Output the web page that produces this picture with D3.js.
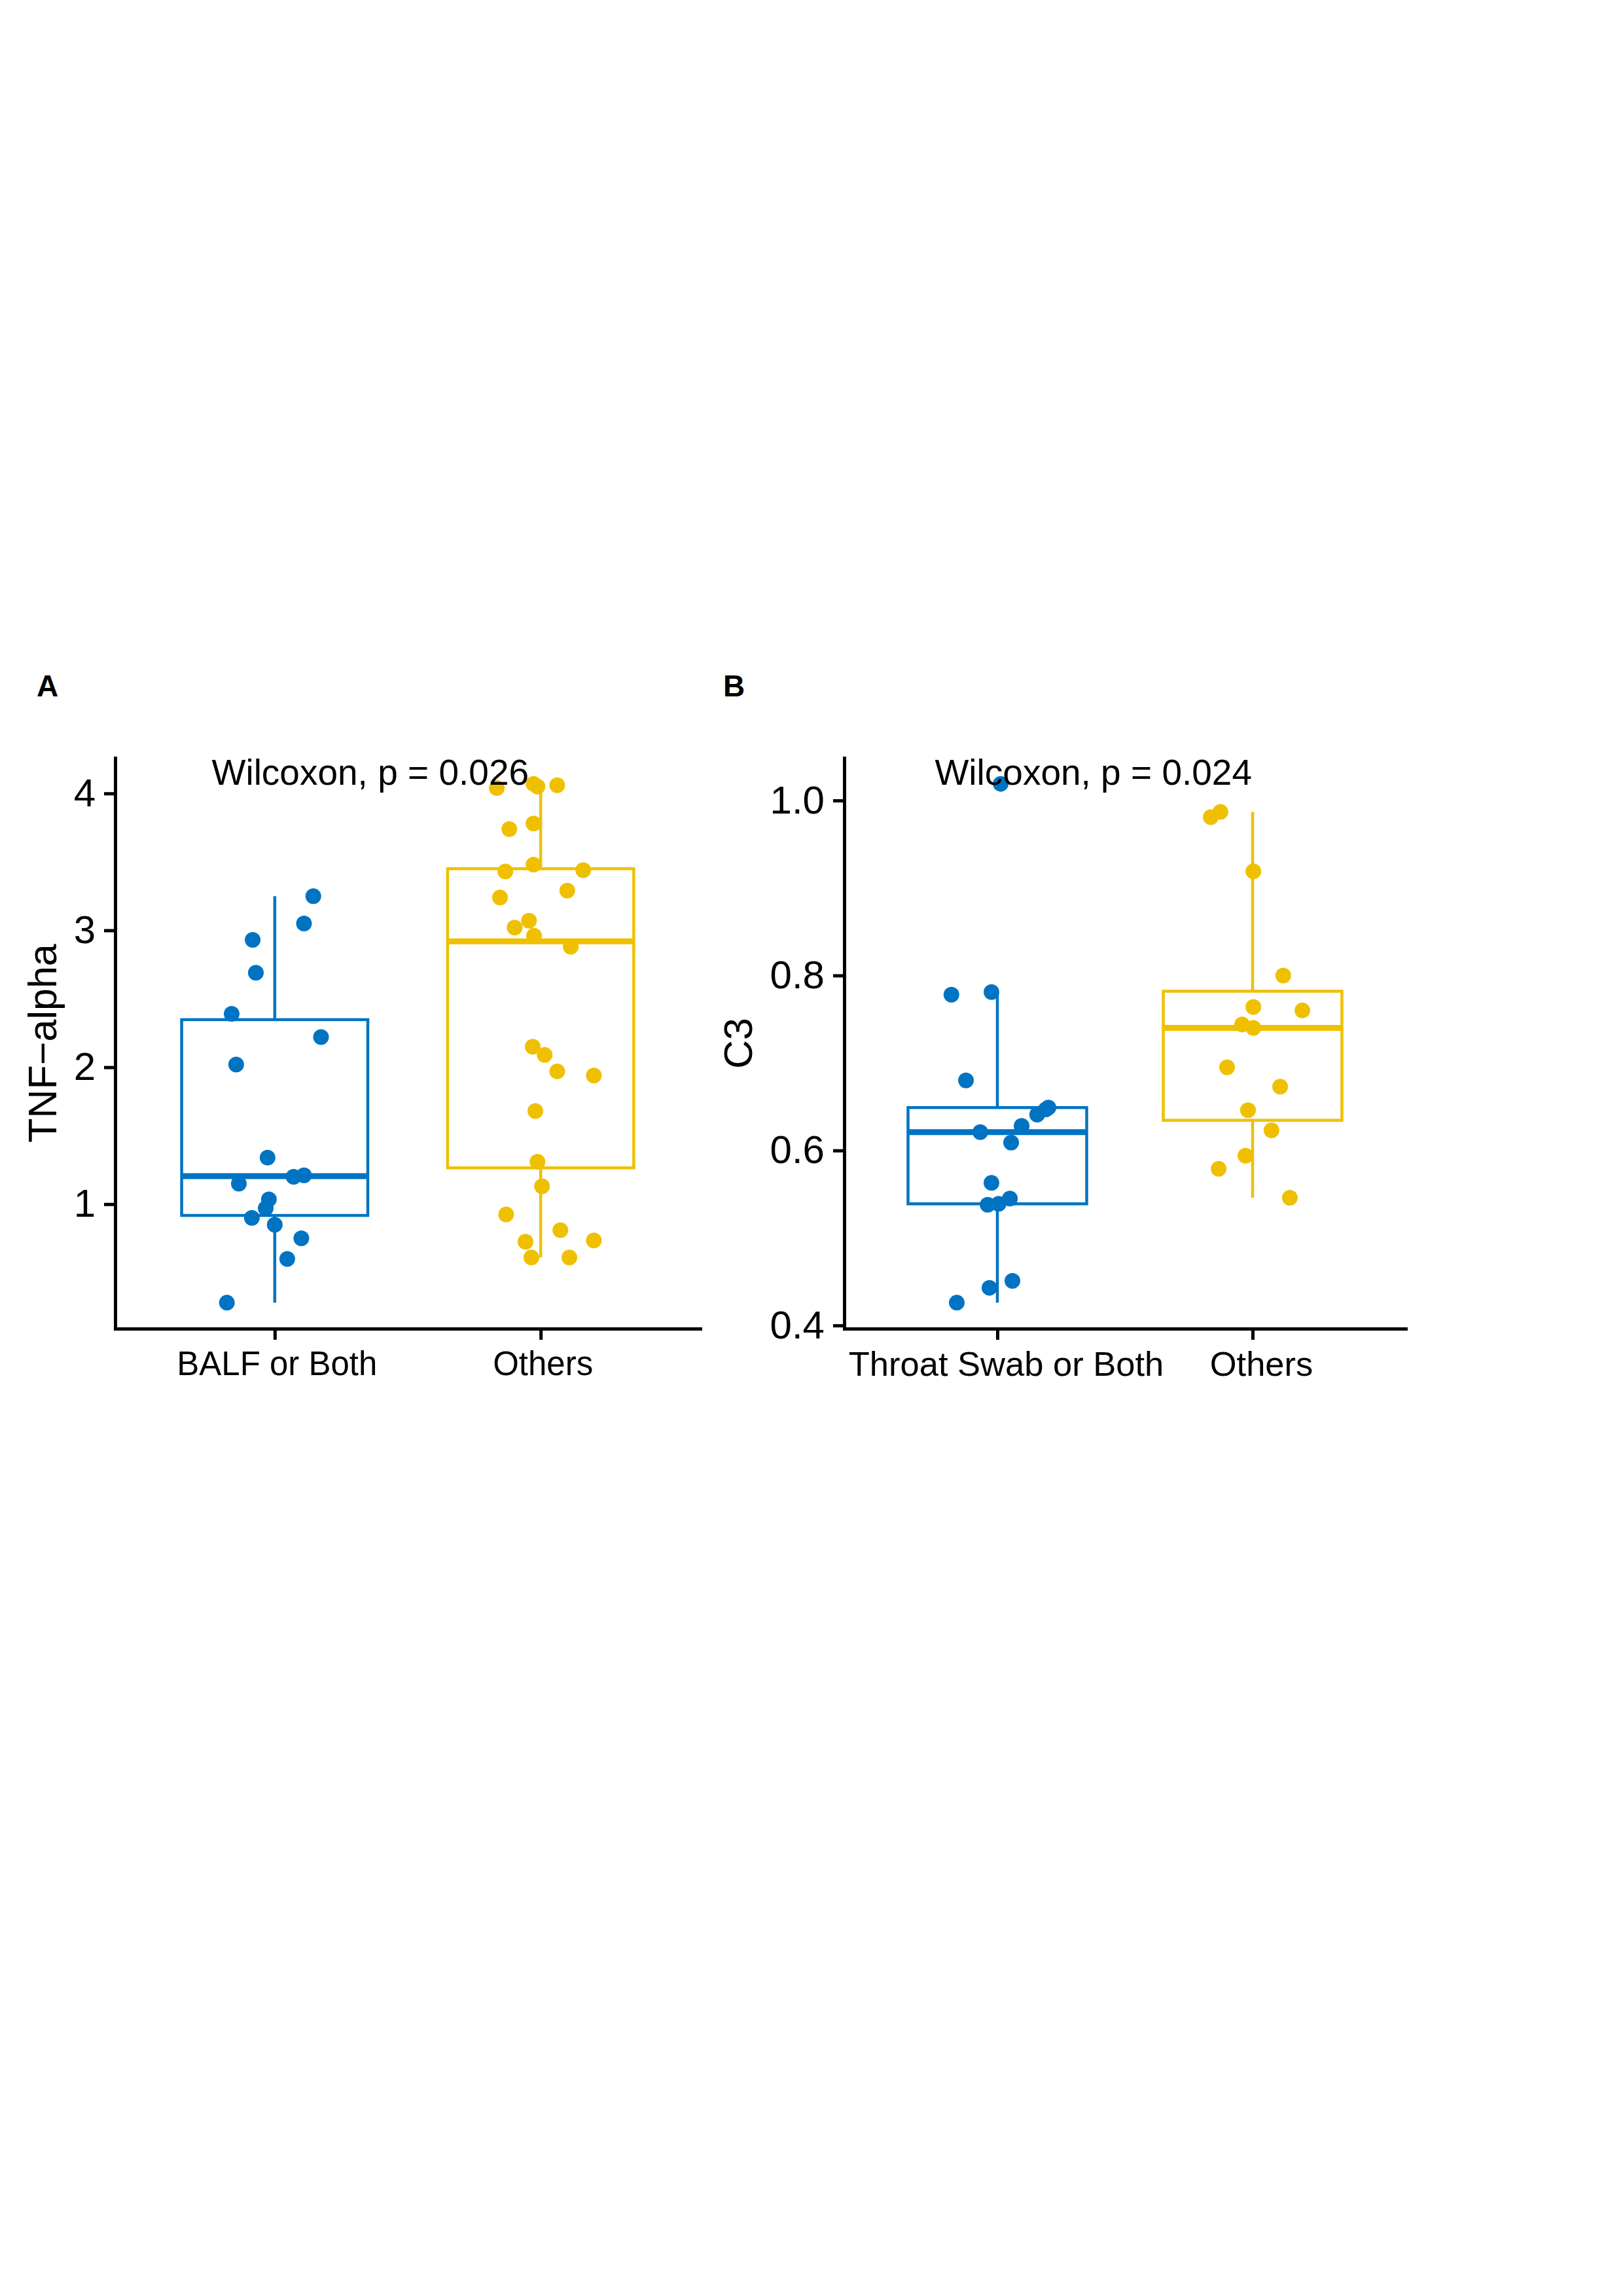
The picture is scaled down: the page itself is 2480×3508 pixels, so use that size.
<!DOCTYPE html>
<html>
<head>
<meta charset="utf-8">
<script src="https://cdn.jsdelivr.net/npm/d3@7"></script>
<style>
  html, body { margin: 0; padding: 0; background: #fff; }
  svg { display: block; }
</style>
</head>
<body>
<svg id="fig" width="2480" height="3508"></svg>
<script>
// ---- data ----
const tnfGroups = ['BALF or Both', 'Others'];
const tnfBalf = [3.25, 3.05, 2.93, 2.69, 2.39, 2.22, 2.02, 1.34, 1.15, 1.20, 1.21, 1.035, 0.97, 0.90, 0.85, 0.75, 0.60, 0.28];
const tnfBalfJitter = [0.145, 0.11, -0.083, -0.071, -0.162, 0.174, -0.145, -0.027, -0.135, 0.071, 0.11, -0.022, -0.034, -0.086, 0, 0.10, 0.047, -0.18];
const tnfOthers = [4.04, 4.07, 4.05, 4.06, 3.74, 3.78, 3.43, 3.48, 3.44, 3.24, 3.29, 3.07, 3.02, 2.96, 2.88, 2.15, 2.09, 1.97, 1.94, 1.68, 1.31, 1.13, 0.925, 0.81, 0.725, 0.735, 0.61, 0.61];
const tnfOthersJitter = [-0.165, -0.027, -0.012, 0.062, -0.118, -0.027, -0.133, -0.027, 0.16, -0.153, 0.10, -0.044, -0.098, -0.025, 0.113, -0.03, 0.015, 0.062, 0.20, -0.02, -0.012, 0.005, -0.13, 0.074, -0.057, 0.20, -0.035, 0.108];
const tnfTicks = [1, 2, 3, 4];

const c3Groups = ['Throat Swab or Both', 'Others'];
const c3Throat = [1.019, 0.778, 0.781, 0.680, 0.649, 0.647, 0.641, 0.628, 0.621, 0.609, 0.563, 0.538, 0.539, 0.545, 0.451, 0.443, 0.426];
const c3ThroatJitter = [0.013, -0.18, -0.023, -0.123, 0.20, 0.19, 0.156, 0.095, -0.067, 0.054, -0.023, -0.038, 0.005, 0.049, 0.059, -0.031, -0.159];
const c3Others = [0.981, 0.987, 0.919, 0.800, 0.764, 0.760, 0.744, 0.740, 0.695, 0.673, 0.646, 0.623, 0.594, 0.579, 0.546];
const c3OthersJitter = [-0.164, -0.126, 0.003, 0.12, 0.003, 0.195, -0.041, 0.003, -0.10, 0.108, -0.018, 0.074, -0.028, -0.133, 0.146];
const c3Ticks = [0.4, 0.6, 0.8, 1.0];

const pLabels = ['Wilcoxon, p = 0.026', 'Wilcoxon, p = 0.024'];
const panelTags = ['A', 'B'];

// ---- style ----
const colors = ['#0073C2', '#EFC000'];
const FONT = '"Liberation Sans", Arial, Helvetica, sans-serif';
const BOX_WIDTH = 0.7;   // in category steps
const LINE = 4.5;

const svg = d3.select('#fig');
svg.append('rect').attr('width', 2480).attr('height', 3508).attr('fill', '#fff');

function boxStats(values) {
  const s = values.slice().sort(d3.ascending);
  const q1 = d3.quantile(s, 0.25);
  const med = d3.quantile(s, 0.5);
  const q3 = d3.quantile(s, 0.75);
  const iqr = q3 - q1;
  const lo = d3.min(s.filter(v => v >= q1 - 1.5 * iqr));
  const hi = d3.max(s.filter(v => v <= q3 + 1.5 * iqr));
  return { q1, med, q3, lo, hi };
}

function drawPanel(cfg) {
  const { left, right, top, bottom } = cfg;
  const g = svg.append('g');

  const all = cfg.series.flatMap(s => s.values);
  const [mn, mx] = d3.extent(all);
  const pad = (mx - mn) * 0.05;
  const y = d3.scaleLinear().domain([mn - pad, mx + pad]).range([bottom, top]);
  const x = d3.scalePoint().domain(cfg.groups).range([left, right]).padding(0.6);
  const step = x.step();

  // panel tag
  g.append('text')
    .attr('x', cfg.tagX).attr('y', 1064)
    .attr('font-family', FONT).attr('font-weight', 'bold').attr('font-size', 46)
    .text(cfg.tag);

  // boxes
  cfg.series.forEach((s, i) => {
    const st = boxStats(s.values);
    const cx = x(cfg.groups[i]);
    const bw = BOX_WIDTH * step;
    const bg = g.append('g').attr('stroke', colors[i]).attr('fill', 'none');
    bg.append('line').attr('x1', cx).attr('x2', cx)
      .attr('y1', y(st.q3)).attr('y2', y(st.hi)).attr('stroke-width', LINE);
    bg.append('line').attr('x1', cx).attr('x2', cx)
      .attr('y1', y(st.q1)).attr('y2', y(st.lo)).attr('stroke-width', LINE);
    bg.append('rect')
      .attr('x', cx - bw / 2).attr('width', bw)
      .attr('y', y(st.q3)).attr('height', y(st.q1) - y(st.q3))
      .attr('fill', '#fff').attr('stroke-width', LINE);
    bg.append('line').attr('x1', cx - bw / 2).attr('x2', cx + bw / 2)
      .attr('y1', y(st.med)).attr('y2', y(st.med)).attr('stroke-width', 9);
  });

  // jittered points
  cfg.series.forEach((s, i) => {
    const cx = x(cfg.groups[i]);
    g.append('g').selectAll('circle')
      .data(s.values.map((v, k) => ({ v, j: s.jitter[k] })))
      .join('circle')
      .attr('cx', d => cx + d.j * step)
      .attr('cy', d => y(d.v))
      .attr('r', 12)
      .attr('fill', colors[i]);
  });

  // axes
  const yAxis = g.append('g')
    .attr('transform', `translate(${left},0)`)
    .call(d3.axisLeft(y).tickValues(cfg.ticks).tickFormat(cfg.fmt)
      .tickSize(17).tickSizeOuter(0).tickPadding(13));
  const xAxis = g.append('g')
    .attr('transform', `translate(0,${bottom})`)
    .call(d3.axisBottom(x).tickSize(17).tickSizeOuter(0).tickPadding(18));

  [yAxis, xAxis].forEach(a => {
    a.select('.domain').attr('stroke', '#000').attr('stroke-width', 5).attr('stroke-linecap', 'square');
    a.selectAll('.tick line').attr('stroke', '#000').attr('stroke-width', 5);
    a.selectAll('.tick text').attr('fill', '#000').attr('font-family', FONT);
  });
  yAxis.selectAll('.tick text').attr('font-size', 60);
  xAxis.selectAll('.tick text')
    .attr('font-size', cfg.xFont)
    .attr('dx', cfg.xShift);

  // y title
  g.append('text')
    .attr('transform', `translate(${cfg.titleX},${(top + bottom) / 2}) rotate(-90)`)
    .attr('text-anchor', 'middle')
    .attr('font-family', FONT).attr('font-size', 61)
    .text(cfg.title);

  // test label
  g.append('text')
    .attr('x', x(cfg.groups[0]) - cfg.labelOffset * step)
    .attr('y', 1199)
    .attr('font-family', FONT).attr('font-size', 55)
    .text(cfg.label);
}

drawPanel({
  tag: panelTags[0], tagX: 56,
  left: 176, right: 1070, top: 1158, bottom: 2030,
  groups: tnfGroups,
  series: [
    { values: tnfBalf, jitter: tnfBalfJitter },
    { values: tnfOthers, jitter: tnfOthersJitter }
  ],
  ticks: tnfTicks, fmt: d3.format('d'),
  xFont: 51, xShift: 3,
  title: 'TNF\u2212alpha', titleX: 86,
  label: pLabels[0], labelOffset: 0.237
});

drawPanel({
  tag: panelTags[1], tagX: 1105,
  left: 1290, right: 2148, top: 1158, bottom: 2030,
  groups: c3Groups,
  series: [
    { values: c3Throat, jitter: c3ThroatJitter },
    { values: c3Others, jitter: c3OthersJitter }
  ],
  ticks: c3Ticks, fmt: d3.format('.1f'),
  xFont: 52.5, xShift: 13,
  title: 'C3', titleX: 1149,
  label: pLabels[1], labelOffset: 0.245
});
</script>
</body>
</html>
